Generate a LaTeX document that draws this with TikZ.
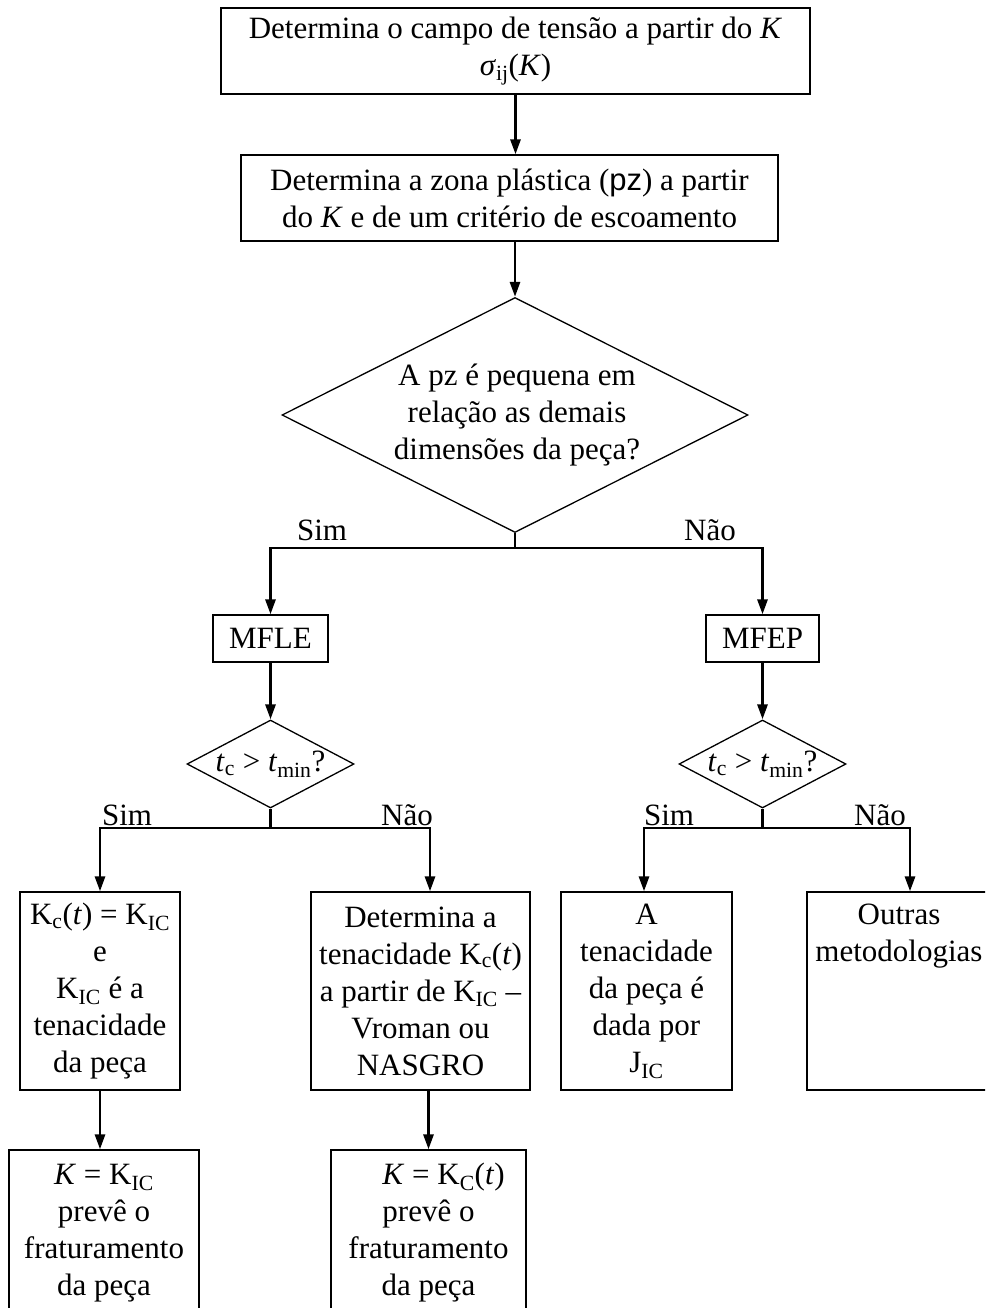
\documentclass[tikz,border=0pt]{standalone}
\usepackage{fontspec}
\setmainfont{Liberation Serif}
\newfontfamily\pzfont{Liberation Sans}
\usetikzlibrary{shapes.geometric,arrows.meta}
\begin{document}
\begin{tikzpicture}[x=1pt,y=-1pt,
  box/.style={draw,line width=1.3pt,inner sep=0pt,align=center,font=\fontsize{31}{37}\selectfont},
  txt/.style={inner sep=0pt,align=center,font=\fontsize{31}{37}\selectfont},
  dia/.style={draw,diamond,line width=1.3pt,inner sep=0pt},
  arr/.style={line width=2.8pt,line join=miter,-{Triangle[length=15pt,width=10pt]}},
  ln/.style={line width=2.8pt},
]
\useasboundingbox (0,0) rectangle (985,1308);
\clip (0,0) rectangle (985,1308);

\node[box,minimum width=589pt,minimum height=86pt] (b1) at (515.5,51)
  {Determina o campo de tensão a partir do \textit{K}\\\textit{σ}\textsubscript{ij}(\textit{K})};
\node[box,minimum width=537pt,minimum height=86pt] (b2) at (509.5,198)
  {Determina a zona plástica ({\pzfont pz}) a partir\\do \textit{K} e de um critério de escoamento};
\node[dia,minimum width=466pt,minimum height=235pt] (d1) at (515,415) {};
\node[txt] (t1) at (517,415) {A pz é pequena em\\relação as demais\\dimensões da peça?};

\node[box,minimum width=115pt,minimum height=47pt] (mfle) at (270.5,638.5) {MFLE};
\node[box,minimum width=113pt,minimum height=47pt] (mfep) at (762.5,638.5) {MFEP};

\node[dia,minimum width=167pt,minimum height=88pt] (sd1) at (270.5,764) {};
\node[txt] (ts1) at (270.5,764) {\textit{t}\textsubscript{c} > \textit{t}\textsubscript{min}?};
\node[dia,minimum width=167pt,minimum height=88pt] (sd2) at (762.5,764) {};
\node[txt] (ts2) at (762.5,764) {\textit{t}\textsubscript{c} > \textit{t}\textsubscript{min}?};

\node[box,minimum width=160pt,minimum height=198pt] (kc) at (100,991)
  {K\textsubscript{c}(\textit{t}) = K\textsubscript{IC}\\e\\K\textsubscript{IC} é a\\tenacidade\\da peça};
\node[box,minimum width=219pt,minimum height=198pt] (dt) at (420.5,991)
  {Determina a\\tenacidade K\textsubscript{c}(\textit{t})\\a partir de K\textsubscript{IC} –\\Vroman ou\\NASGRO};
\node[box,minimum width=171pt,minimum height=198pt] (at) at (646.5,991)
  {A\\tenacidade\\da peça é\\dada por\\J\textsubscript{IC}};
\node[box,minimum width=190pt,minimum height=198pt] (ou) at (902,991) {};
\node[txt] (tou) at (899,936.5) {Outras\\metodologias};

\node[box,minimum width=190pt,minimum height=166pt] (fk) at (104,1233)
  {\textit{K} = K\textsubscript{IC}\\prevê o\\fraturamento\\da peça};
\node[box,minimum width=195pt,minimum height=166pt] (fd) at (428.5,1233)
  {\hspace*{30pt}\textit{K} = K\textsubscript{C}(\textit{t})\\prevê o\\fraturamento\\da peça};

% connectors
\draw[arr] (b1.south) -- (b1.south |- b2.north);
\draw[arr] (b2.south -| d1.north) -- (d1.north);

\coordinate (j1) at (515,548);
\draw[ln] (d1.south) -- (j1);
\draw[arr] (j1) -| (mfle.north);
\draw[arr] (j1) -| (mfep.north);
\node[txt] (sim1) at (322,530) {Sim};
\node[txt] (nao1) at (710,530) {Não};

\draw[arr] (mfle.south) -- (sd1.north);
\draw[arr] (mfep.south) -- (sd2.north);

\coordinate (jL) at (270.5,828);
\coordinate (cL1) at (100,828);
\coordinate (cL2) at (430,828);
\draw[ln] (sd1.south) -- (jL);
\draw[arr] (jL) -| (cL1 |- kc.north);
\draw[arr] (jL) -| (cL2 |- dt.north);
\node[txt] (sim2) at (127,815) {Sim};
\node[txt] (nao2) at (407,815) {Não};

\coordinate (jR) at (762.5,828);
\coordinate (cR1) at (644,828);
\coordinate (cR2) at (910,828);
\draw[ln] (sd2.south) -- (jR);
\draw[arr] (jR) -| (cR1 |- at.north);
\draw[arr] (jR) -| (cR2 |- ou.north);
\node[txt] (sim3) at (669,815) {Sim};
\node[txt] (nao3) at (880,815) {Não};

\draw[arr] (kc.south) -- (kc.south |- fk.north);
\draw[arr] (fd.north |- dt.south) -- (fd.north);
\end{tikzpicture}
\end{document}
